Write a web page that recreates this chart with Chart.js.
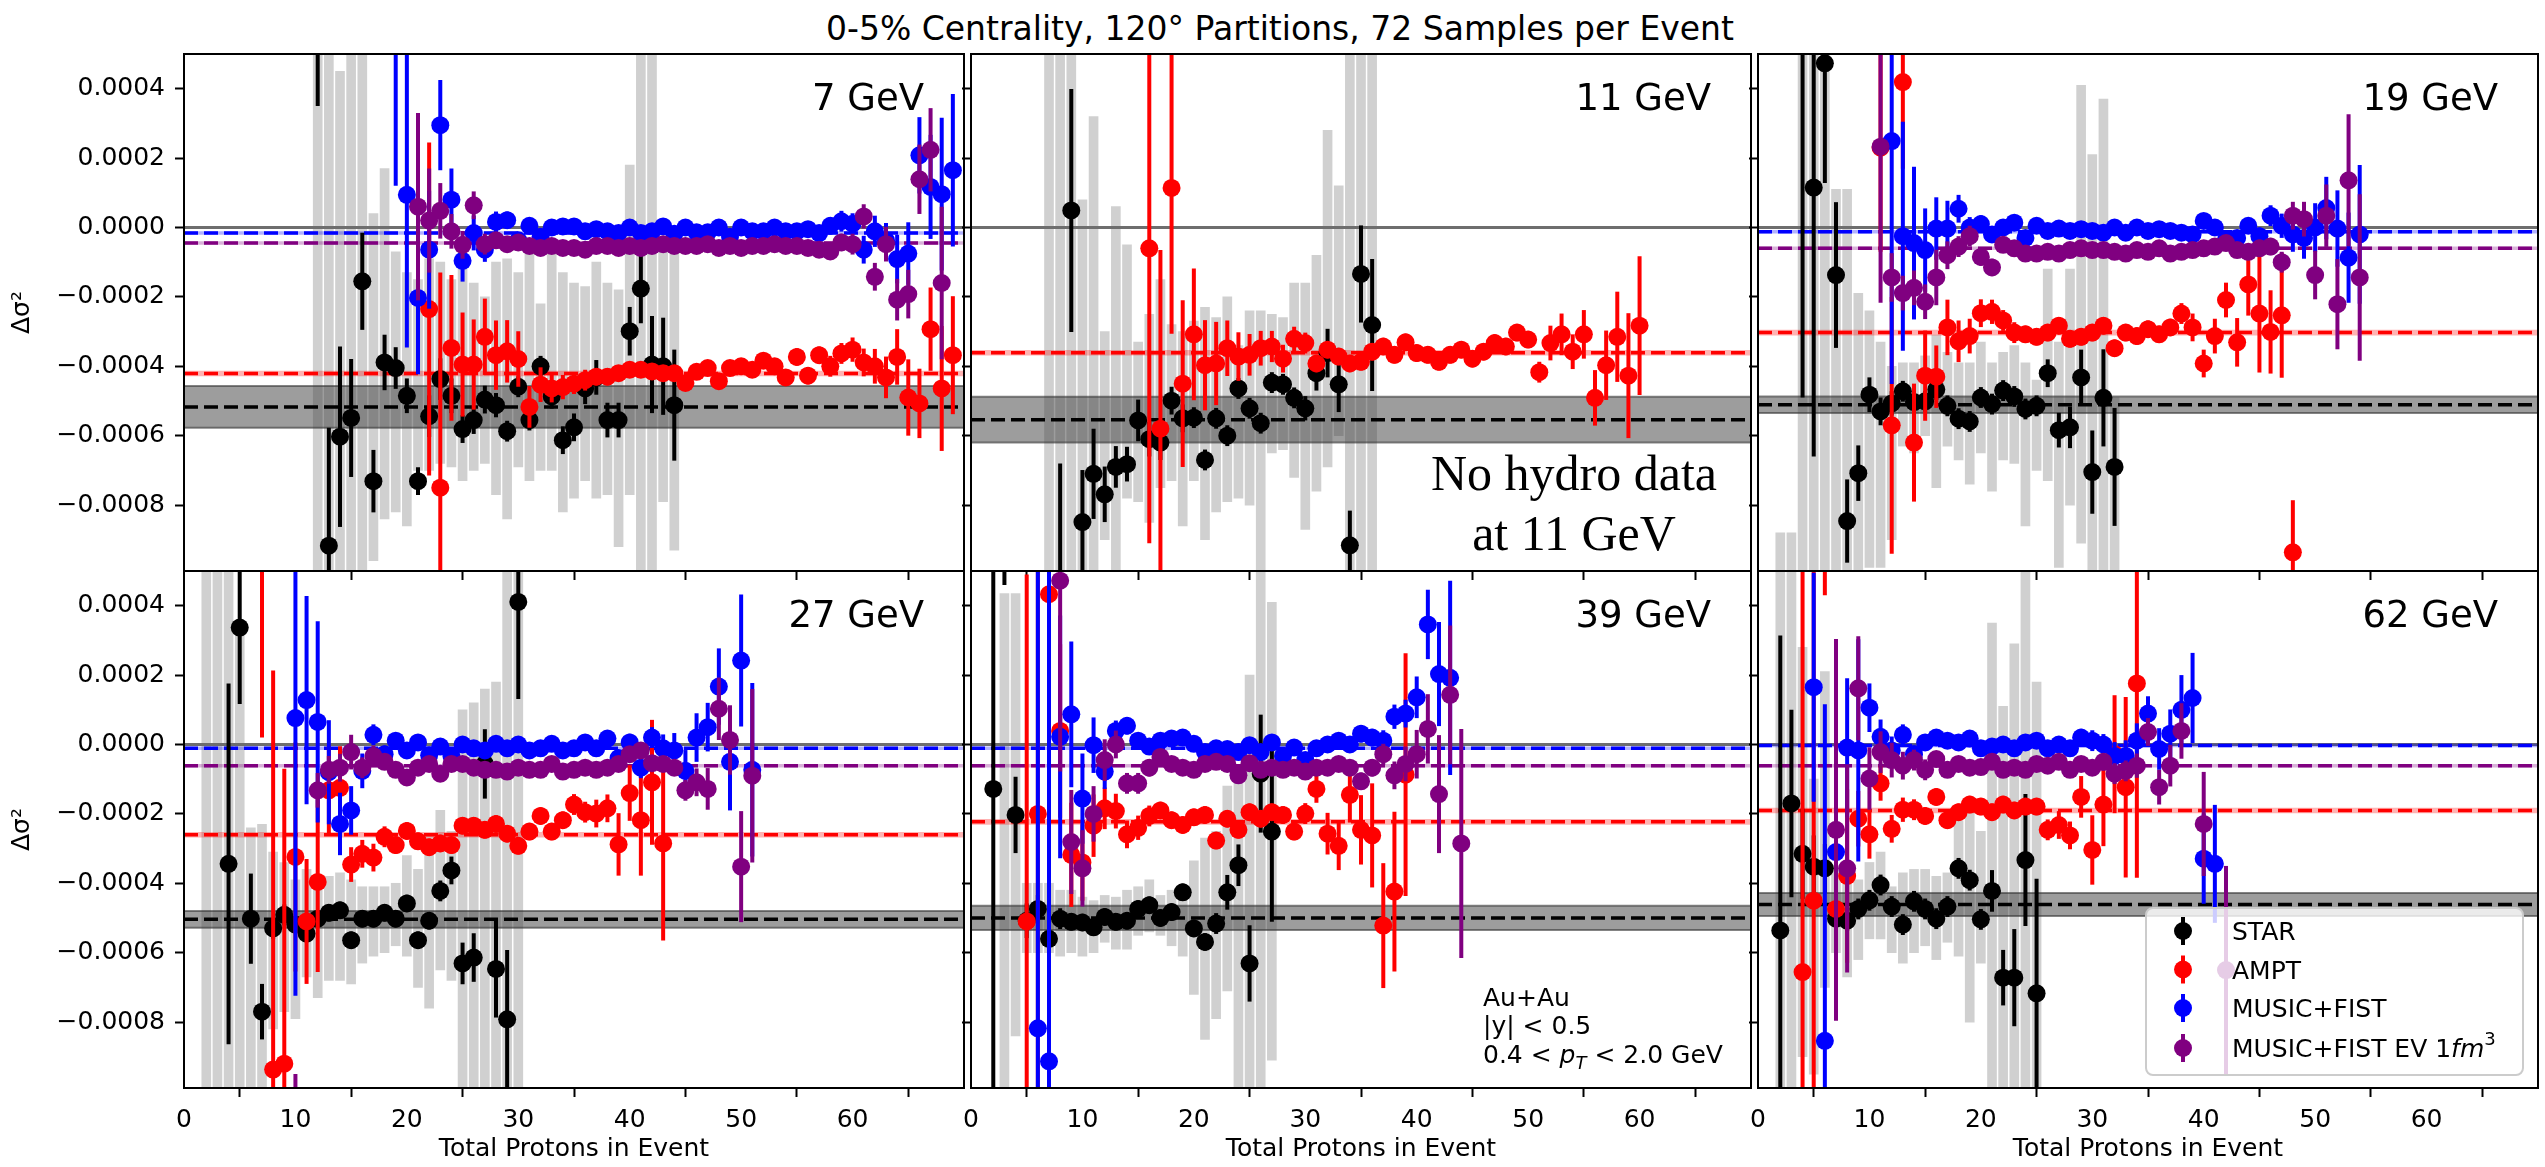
<!DOCTYPE html>
<html>
<head>
<meta charset="utf-8">
<title>Delta sigma^2 vs total protons</title>
<script src="https://cdn.jsdelivr.net/npm/chart.js@4.4.0/dist/chart.umd.min.js"></script>
<style>
  html, body { margin: 0; padding: 0; background: #fff; width: 2545px; height: 1167px; overflow: hidden; }
  #suptitle {
    position: absolute; left: 680px; top: 9px; width: 1200px; line-height: 38px;
    text-align: center; font: 33px "DejaVu Sans", sans-serif; color: #000;
  }
  canvas { position: absolute; }
</style>
</head>
<body>
<div id="suptitle">0-5% Centrality, 120° Partitions, 72 Samples per Event</div>
<canvas id="p0"></canvas>
<canvas id="p1"></canvas>
<canvas id="p2"></canvas>
<canvas id="p3"></canvas>
<canvas id="p4"></canvas>
<canvas id="p5"></canvas>
<script>
// values are given in units of 1e-4 (Δσ²), x = total protons in event
const UNIT = 1e-4;
const energies = ['7 GeV', '11 GeV', '19 GeV', '27 GeV', '39 GeV', '62 GeV'];
const xTicks = [0, 10, 20, 30, 40, 50, 60];
const yTicks = [-0.0008, -0.0006, -0.0004, -0.0002, 0, 0.0002, 0.0004];
const X_MIN = 0, X_MAX = 70;
const Y_MIN = -0.00099, Y_MAX = 0.0005;
const legendLabels = ['STAR', 'AMPT', 'MUSIC+FIST', 'MUSIC+FIST EV 1fm³'];
const noHydroLines = ['No hydro data', 'at 11 GeV'];
const cutLines = ['Au+Au', '|y| < 0.5', '0.4 < pT < 2.0 GeV'];

// ---- 7 GeV ----
const star7_x0 = 12;
const star7_y = [8.0, -9.17, -6.03, -5.49, -1.55, -7.31, -3.89, -4.05, -4.85, -7.31,
  -5.44, -4.37, -4.85, -5.81, -5.55, -4.96, -5.12, -5.87, -4.59, -5.55,
  -4.0, -4.87, -6.13, -5.76, -4.64, -4.32, -5.55, -5.55, -2.99, -1.76,
  -3.95, -4.0, -5.12];
const star7_err = [4.5, 3.4, 2.6, 1.7, 1.4, 0.9, 0.8, 0.6, 0.5, 0.4,
  0.6, 0.6, 0.5, 0.4, 0.4, 0.4, 0.35, 0.3, 0.3, 0.3,
  0.3, 0.35, 0.4, 0.4, 0.45, 0.5, 0.5, 0.5, 0.7, 1.0,
  1.4, 1.4, 1.6];
const sys7_x0 = 12;
const sys7_hi = [6, 6, 4.5, 6, 6, 0.4, 1.7, -0.7, -1.3, -1.5,
  -0.9, -1.0, -1.5, -0.7, -1.6, -2.0, -1.0, -0.9, -1.3, -0.7,
  -2.2, -0.5, -1.3, -1.6, -1.7, -1.0, -1.6, -1.8, 1.8, 6,
  6, -0.5, -0.7];
const sys7_lo = [-11, -11, -9.9, -9.9, -9.9, -9.6, -8.4, -8.2, -8.6, -7.0,
  -7.0, -6.8, -6.9, -7.3, -7.0, -6.8, -7.7, -8.4, -6.9, -7.3,
  -7.0, -7.0, -8.2, -7.8, -7.3, -7.8, -7.7, -9.2, -7.7, -11,
  -11, -7.9, -9.3];
const ampt7_x0 = 22;
const ampt7_y = [-2.35, -7.5, -3.47, -3.95, -3.95, -3.15, -3.68, -3.57, -3.79, -5.17,
  -4.53, -4.64, -4.6, -4.5, -4.4, -4.3, -4.3, -4.2, -4.1, -4.1,
  -4.15, -4.2, -4.2, -4.48, -4.16, -4.05, -4.43, -4.05, -4.0, -4.1,
  -3.84, -4.0, -4.32, -3.73, -4.27, -3.68, -4.0, -3.63, -3.52, -3.89,
  -4.0, -4.32, -3.73, -4.9, -5.07, -2.93, -4.64, -3.68];
const ampt7_err = [4.8, 6.2, 2.1, 1.5, 1.3, 1.1, 1.0, 0.9, 0.8, 0.6,
  0.5, 0.4, 0.35, 0.3, 0.3, 0.25, 0.25, 0.2, 0.2, 0.2,
  0.2, 0.2, 0.2, 0.2, 0.2, 0.2, 0.2, 0.2, 0.2, 0.2,
  0.2, 0.2, 0.2, 0.25, 0.25, 0.25, 0.3, 0.3, 0.35, 0.4,
  0.5, 0.6, 0.8, 1.1, 1.0, 1.2, 1.8, 1.7];
const mf7_x0 = 19;
const mf7_y = [5.5, 0.94, -2.03, -0.64, 2.95, 0.8, -0.96, -0.16, -0.64, 0.16,
  0.21, -0.37, 0.05, -0.27, 0.0, 0.03, 0.03, -0.11, -0.05, -0.11,
  -0.16, 0.0, -0.16, -0.11, 0.03, -0.18, 0.0, -0.14, -0.14, 0.0,
  -0.27, 0.0, -0.11, -0.11, 0.0, -0.11, -0.11, -0.05, -0.16, 0.05,
  0.18, 0.11, -0.64, -0.11, -0.37, -0.91, -0.75, 2.08, 1.17, 0.96,
  1.65];
const mf7_err = [4.3, 4.4, 2.2, 1.7, 1.3, 0.9, 0.6, 0.5, 0.35, 0.3,
  0.25, 0.2, 0.2, 0.2, 0.2, 0.2, 0.2, 0.2, 0.2, 0.2,
  0.2, 0.2, 0.2, 0.2, 0.2, 0.2, 0.2, 0.2, 0.2, 0.2,
  0.2, 0.2, 0.2, 0.2, 0.2, 0.2, 0.2, 0.2, 0.2, 0.25,
  0.3, 0.3, 0.4, 0.45, 0.5, 0.7, 0.9, 1.1, 1.5, 2.2,
  2.2];
const ev7_x0 = 21;
const ev7_y = [0.6, 0.2, 0.48, -0.11, -0.5, 0.64, -0.48, -0.37, -0.48, -0.43,
  -0.53, -0.59, -0.53, -0.59, -0.59, -0.64, -0.53, -0.53, -0.59, -0.53,
  -0.59, -0.53, -0.48, -0.53, -0.53, -0.53, -0.48, -0.59, -0.53, -0.59,
  -0.53, -0.53, -0.48, -0.53, -0.53, -0.59, -0.64, -0.69, -0.43, -0.48,
  0.32, -1.42, -0.48, -2.08, -1.92, 1.39, 2.24, -1.6];
const ev7_err = [2.7, 1.5, 0.8, 0.5, 0.4, 0.4, 0.3, 0.2, 0.2, 0.2,
  0.2, 0.2, 0.2, 0.2, 0.2, 0.2, 0.2, 0.2, 0.2, 0.2,
  0.2, 0.2, 0.2, 0.2, 0.2, 0.2, 0.2, 0.2, 0.2, 0.2,
  0.2, 0.2, 0.2, 0.2, 0.2, 0.2, 0.2, 0.2, 0.25, 0.3,
  0.35, 0.4, 0.5, 0.6, 0.7, 1.0, 1.2, 2.2];

// ---- 11 GeV ----
const star11_x0 = 7;
const star11_y = [null, -12, 0.49, -8.49, -7.1, -7.69, -6.9, -6.82, -5.56, -6.1,
  -6.2, -4.99, -5.5, -5.48, -6.7, -5.5, -6.0, -4.64, -5.21, -5.64,
  -4.47, -4.52, -4.91, -5.21, -4.2, -3.62, -4.52, -9.16, -1.34, -2.81];
const star11_err = [null, 5.2, 3.5, 1.5, 1.3, 0.8, 0.6, 0.5, 0.6, 0.5,
  0.5, 0.4, 0.4, 0.3, 0.3, 0.3, 0.3, 0.3, 0.3, 0.3,
  0.3, 0.3, 0.3, 0.35, 0.5, 0.7, 0.8, 1.0, 1.4, 1.9];
const sys11_x0 = 7;
const sys11_hi = [6, 6, 6, 0.8, 3.2, -3.0, 0.6, -0.5, -3.3, -2.5,
  -1.5, -2.8, -3.0, -2.7, -2.3, -2.6, -2.0, -3.4, -2.4, -2.4,
  -2.5, -2.6, -1.6, -1.6, -0.8, 2.8, 1.2, 6, 6, 6];
const sys11_lo = [-11, -11, -11, -9.9, -10, -9.0, -10, -7.8, -7.9, -8.5,
  -7.5, -7.3, -8.6, -7.3, -9.0, -8.2, -7.9, -7.8, -8.0, -9.9,
  -6.5, -6.4, -7.2, -8.7, -7.6, -6.9, -6.0, -11, -11, -11];
const ampt11_x0 = 16;
const ampt11_y = [-0.6, -5.8, 1.14, -4.5, -3.08, -3.97, -3.92, -3.48, -3.72, -3.67,
  -3.48, -3.43, -3.78, -3.21, -3.33, -3.92, -3.52, -3.72, -3.92, -3.87,
  -3.58, -3.43, -3.67, -3.31, -3.62, -3.67, -3.87, -3.67, -3.52, -3.78,
  -3.58, -3.33, -3.43, -3.03, -3.23, -4.17, -3.33, -3.08, -3.58, -3.08,
  -4.91, -3.97, -3.15, -4.27, -2.83];
const ampt11_err = [8.5, 5.15, 4.2, 2.4, 1.9, 1.3, 1.2, 0.8, 0.7, 0.6,
  0.5, 0.45, 0.4, 0.35, 0.3, 0.25, 0.25, 0.25, 0.25, 0.25,
  0.25, 0.25, 0.25, 0.25, 0.25, 0.25, 0.25, 0.25, 0.25, 0.25,
  0.25, 0.25, 0.25, 0.25, 0.25, 0.3, 0.5, 0.6, 0.5, 0.7,
  0.8, 1.0, 1.3, 1.8, 2.0];

// ---- 19 GeV ----
const star19_x0 = 4;
const star19_y = [6, 1.15, 4.73, -1.37, -8.46, -7.08, -4.82, -5.3, -5.07, -4.72,
  -5.03, -5.01, -4.67, -5.14, -5.51, -5.59, -4.9, -5.09, -4.7, -4.87,
  -5.23, -5.14, -4.2, -5.84, -5.76, -4.32, -7.05, -4.91, -6.9];
const star19_err = [10.9, 7.75, 3.45, 2.1, 1.2, 0.8, 0.5, 0.4, 0.35, 0.3,
  0.3, 0.3, 0.3, 0.3, 0.3, 0.3, 0.3, 0.3, 0.3, 0.3,
  0.3, 0.3, 0.4, 0.5, 0.6, 0.8, 1.2, 1.4, 1.7];
const sys19_x0 = 2;
const sys19_hi = [-8.8, -8.8, 6, 6, 6, 1.1, 1.1, -1.9, -2.4, -3.3,
  -4.0, -3.9, -3.9, -3.7, -3.1, -3.6, -3.9, -3.9, -3.3, -3.9,
  -3.6, -3.4, -3.9, -4.4, -1.2, -3.3, -1.2, 4.1, 2.1, 3.7,
  -4.9];
const sys19_lo = [-11, -11, -11, -11, -11, -11, -11, -10, -9.8, -9.8,
  -9.0, -6.3, -6.5, -6.0, -7.5, -6.3, -6.7, -7.4, -6.5, -7.6,
  -6.7, -6.8, -8.6, -7.0, -7.3, -9.8, -8.0, -9.1, -11, -11,
  -9.9];
const ampt19_x0 = 11;
const ampt19_y = [2.3, -5.7, 4.19, -6.2, -4.27, -4.3, -2.88, -3.28, -3.13, -2.47,
  -2.43, -2.68, -3.03, -3.08, -3.15, -3.03, -2.83, -3.21, -3.15, -3.03,
  -2.83, -3.48, -3.03, -3.13, -2.93, -3.08, -2.88, -2.48, -2.88, -3.92,
  -3.13, -2.09, -3.31, -1.64, -2.48, -3.01, -2.53, -9.36];
const ampt19_err = [3.0, 3.7, 2.5, 1.7, 1.3, 0.9, 0.8, 0.6, 0.5, 0.4,
  0.35, 0.3, 0.3, 0.25, 0.25, 0.25, 0.25, 0.25, 0.25, 0.25,
  0.25, 0.25, 0.25, 0.25, 0.25, 0.25, 0.25, 0.3, 0.4, 0.4,
  0.5, 0.5, 0.7, 0.9, 1.7, 1.2, 1.8, 1.5];
const mf19_x0 = 12;
const mf19_y = [2.49, -0.25, -0.45, -0.65, -0.03, -0.03, 0.54, 0.0, 0.1, -0.2,
  0.0, 0.14, -0.3, 0.05, -0.1, -0.03, -0.1, -0.05, -0.1, -0.15,
  0.0, -0.15, 0.0, -0.1, -0.05, -0.1, -0.15, -0.2, 0.19, 0.0,
  -0.35, -0.3, 0.05, -0.25, 0.34, 0.05, -0.2, -0.3, 0.0, 0.56,
  -0.03, -0.87, -0.2];
const mf19_err = [7, 3.3, 2.2, 1.2, 0.9, 0.8, 0.4, 0.3, 0.25, 0.2,
  0.2, 0.2, 0.2, 0.2, 0.2, 0.2, 0.2, 0.2, 0.2, 0.2,
  0.2, 0.2, 0.2, 0.2, 0.2, 0.2, 0.2, 0.2, 0.2, 0.2,
  0.2, 0.2, 0.2, 0.25, 0.3, 0.35, 0.5, 0.6, 0.7, 0.9,
  1.1, 1.3, 2.0];
const ev19_x0 = 11;
const ev19_y = [2.33, -1.44, -1.89, -1.74, -2.14, -1.44, -0.8, -0.55, -0.25, -0.85,
  -1.15, -0.5, -0.6, -0.75, -0.75, -0.7, -0.75, -0.65, -0.6, -0.65,
  -0.65, -0.7, -0.75, -0.65, -0.7, -0.6, -0.75, -0.7, -0.65, -0.6,
  -0.55, -0.45, -0.65, -0.7, -0.6, -0.55, -1.0, 0.34, 0.24, -1.37,
  0.34, -2.21, 1.36, -1.44];
const ev19_err = [4.5, 0.7, 0.5, 0.5, 0.5, 0.8, 0.4, 0.3, 0.3, 0.25,
  0.25, 0.2, 0.2, 0.2, 0.2, 0.2, 0.2, 0.2, 0.2, 0.2,
  0.2, 0.2, 0.2, 0.2, 0.2, 0.2, 0.2, 0.2, 0.2, 0.2,
  0.2, 0.2, 0.2, 0.2, 0.25, 0.25, 0.3, 0.4, 0.5, 0.7,
  0.9, 1.3, 1.9, 2.4];

// ---- 27 GeV ----
const star27_x0 = 4;
const star27_y = [-3.44, 3.37, -5.02, -7.7, -5.3, -4.91, -5.19, -5.45, -5.02, -4.85,
  -4.78, -5.64, -5.02, -5.02, -4.85, -5.02, -4.58, -5.64, -5.08, -4.22,
  -3.63, -6.31, -6.14, -0.56, -6.47, -7.92, 4.11];
const star27_err = [5.2, 2.2, 1.3, 0.8, 0.3, 0.3, 0.25, 0.25, 0.25, 0.25,
  0.25, 0.25, 0.25, 0.25, 0.25, 0.25, 0.25, 0.25, 0.25, 0.3,
  0.4, 0.6, 0.7, 1.0, 1.4, 2.0, 2.8];
const sys27_x0 = 2;
const sys27_hi = [6, 6, 6, 3.2, -2.4, -2.3, -3.1, -3.4, -3.9, -3.6,
  -3.9, -3.8, -3.7, -3.9, -4.1, -4.1, -4.1, -4.0, -3.2, -3.6,
  -2.6, -1.9, -2.5, 1.0, 1.2, 1.6, 1.8, 6, 6];
const sys27_lo = [-11, -11, -11, -11, -11, -11, -8.2, -7.7, -7.9, -6.7,
  -7.3, -6.8, -6.8, -6.9, -6.3, -6.1, -6.0, -5.8, -6.1, -7.0,
  -7.6, -6.5, -6.8, -11, -11, -11, -11, -11, -11];
const ampt27_x0 = 7;
const ampt27_y = [5.5, -9.37, -9.2, -3.24, -5.1, -3.96, -1.32, -1.25, -3.46, -3.15,
  -3.26, -2.66, -2.9, -2.49, -2.79, -2.96, -2.85, -2.9, -2.34, -2.34,
  -2.46, -2.29, -2.57, -2.92, -2.51, -2.06, -2.51, -2.18, -1.73, -1.95,
  -1.99, -1.84, -2.88, -1.4, -2.18, -1.09, -2.85];
const ampt27_err = [5.3, 11.5, 8.5, 3.3, 1.8, 2.6, 1.3, 1.2, 0.5, 0.4,
  0.4, 0.3, 0.25, 0.25, 0.25, 0.25, 0.25, 0.25, 0.25, 0.25,
  0.25, 0.25, 0.25, 0.25, 0.25, 0.25, 0.25, 0.25, 0.3, 0.3,
  0.4, 0.4, 0.9, 0.8, 1.6, 1.8, 2.8];
const mf27_x0 = 10;
const mf27_y = [0.76, 1.28, 0.65, -0.8, -2.29, -1.9, -0.76, 0.28, -0.28, 0.11,
  -0.17, 0.06, -0.31, -0.06, -0.33, 0.0, -0.11, -0.17, 0.02, -0.11,
  0.0, -0.17, -0.11, 0.02, -0.17, -0.11, 0.06, -0.11, 0.17, -0.39,
  0.06, -0.67, 0.2, -0.11, -0.17, -0.76, 0.2, 0.5, 1.67, -0.5,
  2.42, -0.73];
const mf27_err = [8, 3, 2.9, 1.5, 0.9, 0.7, 0.5, 0.3, 0.25, 0.2,
  0.2, 0.2, 0.2, 0.2, 0.2, 0.2, 0.2, 0.2, 0.2, 0.2,
  0.2, 0.2, 0.2, 0.2, 0.2, 0.2, 0.2, 0.2, 0.2, 0.2,
  0.25, 0.3, 0.3, 0.4, 0.5, 0.6, 0.7, 0.7, 1.1, 1.4,
  1.9, 2.5];
const ev27_x0 = 10;
const ev27_y = [-14, null, -1.32, -0.73, -0.67, -0.22, -0.67, -0.33, -0.5, -0.73,
  -0.95, -0.67, -0.56, -0.84, -0.56, -0.56, -0.67, -0.73, -0.73, -0.78,
  -0.67, -0.73, -0.73, -0.56, -0.78, -0.73, -0.67, -0.73, -0.67, -0.56,
  -0.28, -0.17, -0.54, -0.56, -0.67, -1.32, -1.09, -1.28, 1.03, 0.13,
  -3.52, -0.9];
const ev27_err = [4.5, null, 0.5, 0.4, 0.4, 0.5, 0.3, 0.3, 0.2, 0.2,
  0.2, 0.2, 0.2, 0.2, 0.2, 0.2, 0.2, 0.2, 0.2, 0.2,
  0.2, 0.2, 0.2, 0.2, 0.2, 0.2, 0.2, 0.2, 0.2, 0.2,
  0.2, 0.2, 0.2, 0.2, 0.2, 0.3, 0.4, 0.6, 0.9, 1.0,
  1.6, 2.5];

// ---- 39 GeV ----
const star39_x0 = 2;
const star39_y = [-1.28, 9, -2.03, -5.08, -4.74, -5.6, -5.02, -5.11, -5.13, -5.27,
  -4.97, -5.11, -5.08, -4.74, -4.63, -5.0, -4.83, -4.26, -5.3, -5.69,
  -5.16, -4.26, -3.48, -6.31, -0.84, -2.51];
const star39_err = [10, 4.4, 1.1, 0.5, 0.4, 0.4, 0.3, 0.25, 0.25, 0.25,
  0.25, 0.25, 0.25, 0.25, 0.25, 0.25, 0.25, 0.25, 0.25, 0.25,
  0.3, 0.5, 0.6, 1.1, 1.7, 2.6];
const sys39_x0 = 3;
const sys39_hi = [4.35, 4.35, -4.0, -4.0, -4.0, -4.2, -4.2, -4.4, -4.5, -4.35,
  -4.4, -4.2, -4.1, -3.9, -4.35, -4.2, -4.2, -3.35, -2.7, -2.5,
  -1.2, -0.7, 2.0, 6, 4.1];
const sys39_lo = [-11, -8.4, -6.0, -6.0, -6.0, -6.1, -6.0, -6.1, -6.0, -5.7,
  -5.9, -5.9, -5.5, -5.4, -5.5, -5.8, -6.1, -7.2, -8.5, -7.9,
  -7.1, -11, -11, -11, -9.1];
const ampt39_x0 = 5;
const ampt39_y = [-5.1, -2, 4.33, 0.39, -3.18, -3.4, -2.34, -1.84, -1.92, -2.59,
  -2.4, -2.06, -1.9, -2.18, -2.32, -2.1, -2.03, -2.77, -2.14, -2.46,
  -1.95, -2.14, -1.95, -2.03, -2.51, -1.99, -1.28, -2.57, -2.92, -1.45,
  -2.46, -2.62, -5.22, -4.24, -0.87];
const ampt39_err = [10, 12, 6, 2.5, 1.5, 1.1, 0.9, 0.6, 0.5, 0.4,
  0.35, 0.3, 0.25, 0.25, 0.25, 0.25, 0.25, 0.25, 0.25, 0.25,
  0.25, 0.25, 0.25, 0.25, 0.25, 0.3, 0.4, 0.6, 0.7, 0.8,
  1.0, 1.5, 1.8, 2.3, 3.5];
const mf39_x0 = 6;
const mf39_y = [-8.18, -9.13, 0.22, 0.87, -1.56, -0.02, -0.78, 0.39, 0.54, 0.11,
  -0.06, 0.11, 0.17, 0.2, 0.02, -0.22, -0.11, -0.13, -0.22, -0.02,
  -0.22, 0.06, -0.33, -0.09, -0.45, -0.11, 0.0, 0.11, 0.0, 0.31,
  0.2, 0.11, 0.8, 0.89, 1.36, 3.46, 2.03, 1.92];
const mf39_err = [15, 15, 3.5, 2.1, 1.3, 0.8, 0.5, 0.3, 0.25, 0.2,
  0.2, 0.2, 0.2, 0.2, 0.2, 0.2, 0.2, 0.2, 0.2, 0.2,
  0.2, 0.2, 0.2, 0.2, 0.2, 0.2, 0.2, 0.2, 0.2, 0.25,
  0.25, 0.3, 0.35, 0.4, 0.6, 1.0, 1.5, 2.8];
const ev39_x0 = 8;
const ev39_y = [4.72, -2.81, -3.57, -2.0, -0.45, 0.0, -1.12, -1.12, -0.67, -0.36,
  -0.56, -0.67, -0.73, -0.56, -0.5, -0.56, -0.89, -0.54, -0.73, -0.67,
  -0.73, -0.67, -0.78, -0.67, -0.67, -0.56, -0.67, -1.06, -0.67, -0.28,
  -0.89, -0.56, -0.28, 0.45, -1.43, 1.43, -2.85];
const ev39_err = [5.5, 1.5, 1.1, 0.8, 0.6, 0.4, 0.3, 0.3, 0.25, 0.2,
  0.2, 0.2, 0.2, 0.2, 0.2, 0.2, 0.2, 0.2, 0.2, 0.2,
  0.2, 0.2, 0.2, 0.2, 0.2, 0.2, 0.2, 0.25, 0.25, 0.3,
  0.4, 0.5, 0.7, 1.0, 1.7, 2.0, 3.3];

// ---- 62 GeV ----
const star62_x0 = 2;
const star62_y = [-5.36, -1.7, -3.15, -3.52, -3.57, -5.02, -5.08, -4.74, -4.49, -4.05,
  -4.67, -5.19, -4.52, -4.74, -5.02, -4.67, -3.57, -3.91, -5.04, -4.22,
  -6.72, -6.72, -3.33, -7.17];
const star62_err = [8.5, 2.7, 1.3, 0.9, 0.7, 0.4, 0.3, 0.3, 0.3, 0.3,
  0.3, 0.3, 0.3, 0.3, 0.3, 0.3, 0.3, 0.3, 0.3, 0.6,
  0.8, 1.4, 1.9, 3.3];
const sys62_x0 = 2;
const sys62_hi = [6, 6, 2.8, -1.0, 2.1, -3.5, -3.6, -3.9, -3.4, -3.1,
  -4.1, -3.7, -3.6, -3.6, -3.8, -3.7, -2.2, -1.6, -2.5, 3.5,
  1.1, 2.9, 6, 1.8];
const sys62_lo = [-11, -11, -9.0, -9.5, -7.0, -6.0, -6.7, -6.2, -5.6, -5.6,
  -6.0, -6.3, -6.0, -5.8, -6.2, -5.7, -6.1, -8.0, -6.3, -11,
  -11, -11, -11, -11];
const ampt62_x0 = 4;
const ampt62_y = [-6.56, -4.5, 9, -4.74, -3.79, -2.14, -2.59, -1.12, -2.43, -1.88,
  -1.88, -2.06, -1.51, -2.18, -1.95, -1.73, -1.79, -1.95, -1.73, -1.9,
  -1.79, -1.79, -2.46, -2.32, -2.62, -1.51, -3.04, -1.73, -0.28, -1.23,
  1.76];
const ampt62_err = [12, 11, 4.7, 2.5, 2.5, 0.8, 0.7, 0.5, 0.4, 0.35,
  0.3, 0.25, 0.25, 0.25, 0.25, 0.25, 0.25, 0.25, 0.25, 0.25,
  0.25, 0.25, 0.3, 0.4, 0.4, 0.6, 1.0, 1.2, 1.7, 2.6,
  5.6];
const mf62_x0 = 5;
const mf62_y = [1.65, -8.54, -3.1, -0.09, -0.17, 1.06, 0.22, -0.17, 0.28, -0.28,
  0.06, 0.2, 0.11, 0.06, 0.17, -0.11, -0.06, 0.0, -0.11, 0.06,
  0.11, -0.11, 0.0, -0.11, 0.2, 0.11, 0.0, -0.33, -0.33, 0.11,
  0.89, -0.13, 0.31, 1.0, 1.34, -3.29, -3.44];
const mf62_err = [3.3, 9.7, 3.6, 2.0, 3.2, 0.7, 0.5, 0.4, 0.3, 0.25,
  0.2, 0.2, 0.2, 0.2, 0.2, 0.2, 0.2, 0.2, 0.2, 0.2,
  0.2, 0.2, 0.2, 0.2, 0.25, 0.3, 0.3, 0.4, 0.45, 0.5,
  0.5, 0.6, 0.7, 1.0, 1.3, 1.3, 1.7];
const ev62_x0 = 7;
const ev62_y = [-2.46, -3.57, 1.62, -0.98, -0.22, -0.45, -0.61, -0.45, -0.73, -0.42,
  -0.73, -0.56, -0.67, -0.65, -0.5, -0.73, -0.67, -0.73, -0.56, -0.61,
  -0.5, -0.73, -0.56, -0.67, -0.5, -0.84, -0.76, -0.61, 0.36, -1.23,
  -0.61, 0.39, null, -2.29, null, -6.5];
const ev62_err = [5.5, 3.0, 1.5, 0.9, 0.6, 0.5, 0.4, 0.3, 0.3, 0.2,
  0.2, 0.2, 0.2, 0.2, 0.2, 0.2, 0.2, 0.2, 0.2, 0.2,
  0.2, 0.2, 0.2, 0.2, 0.25, 0.3, 0.3, 0.35, 0.4, 0.5,
  0.6, 0.8, null, 1.5, null, 3.0];

// horizontal averages (same units), one entry per energy
const meanStar = [-5.17, -5.54, -5.11, -5.04, -5.0, -4.61];
const bandStar = [0.6, 0.66, 0.24, 0.24, 0.35, 0.33];
const meanAmpt = [-4.21, -3.61, -3.03, -2.6, -2.23, -1.9];
const meanMf = [-0.16, null, -0.12, -0.11, -0.11, -0.03];
const meanEv = [-0.45, null, -0.6, -0.61, -0.61, -0.61];
const bandAmpt = 0.08, bandHydro = 0.05;

const COL = { star: '#000000', ampt: '#ff0000', mf: '#0000ff', ev: '#800080' };
const legendColors = [COL.star, COL.ampt, COL.mf, COL.ev];

const panels = [
  { star: [star7_x0, star7_y, star7_err], sys: [sys7_x0, sys7_hi, sys7_lo],
    ampt: [ampt7_x0, ampt7_y, ampt7_err], mf: [mf7_x0, mf7_y, mf7_err], ev: [ev7_x0, ev7_y, ev7_err] },
  { star: [star11_x0, star11_y, star11_err], sys: [sys11_x0, sys11_hi, sys11_lo],
    ampt: [ampt11_x0, ampt11_y, ampt11_err], mf: null, ev: null },
  { star: [star19_x0, star19_y, star19_err], sys: [sys19_x0, sys19_hi, sys19_lo],
    ampt: [ampt19_x0, ampt19_y, ampt19_err], mf: [mf19_x0, mf19_y, mf19_err], ev: [ev19_x0, ev19_y, ev19_err] },
  { star: [star27_x0, star27_y, star27_err], sys: [sys27_x0, sys27_hi, sys27_lo],
    ampt: [ampt27_x0, ampt27_y, ampt27_err], mf: [mf27_x0, mf27_y, mf27_err], ev: [ev27_x0, ev27_y, ev27_err] },
  { star: [star39_x0, star39_y, star39_err], sys: [sys39_x0, sys39_hi, sys39_lo],
    ampt: [ampt39_x0, ampt39_y, ampt39_err], mf: [mf39_x0, mf39_y, mf39_err], ev: [ev39_x0, ev39_y, ev39_err] },
  { star: [star62_x0, star62_y, star62_err], sys: [sys62_x0, sys62_hi, sys62_lo],
    ampt: [ampt62_x0, ampt62_y, ampt62_err], mf: [mf62_x0, mf62_y, mf62_err], ev: [ev62_x0, ev62_y, ev62_err] }
];

Chart.defaults.font.family = '"DejaVu Sans", sans-serif';
Chart.defaults.font.size = 25;
Chart.defaults.color = '#000';

function toPoints(x0, ys, errs) {
  const out = [];
  ys.forEach((v, i) => {
    if (v !== null) out.push({ x: x0 + i, y: v * UNIT, e: errs[i] * UNIT });
  });
  return out;
}
function toBars(x0, hi, lo) {
  return hi.map((h, i) => ({ x: x0 + i, y: [lo[i] * UNIT, h * UNIT] }));
}
function flat(v) {
  return [{ x: X_MIN, y: v }, { x: X_MAX, y: v }];
}
function lineDs(v, color, width, dash, order) {
  return { type: 'line', data: flat(v), borderColor: color, borderWidth: width, borderDash: dash,
    pointRadius: 0, fill: false, order, clip: 0 };
}
function bandDs(mean, half, color, order) {
  return { type: 'line', data: flat((mean + half) * UNIT), fill: { value: (mean - half) * UNIT },
    backgroundColor: color, borderWidth: 0, pointRadius: 0, order, clip: 0 };
}
function pointDs(series, color, order) {
  return { type: 'scatter', data: toPoints(...series), backgroundColor: color, borderColor: color,
    pointRadius: 9, pointHoverRadius: 9, pointBorderWidth: 0, errorBars: true, order, clip: 0 };
}

function buildDatasets(i) {
  const p = panels[i];
  const ds = [];
  ds.push({ type: 'bar', data: toBars(...p.sys), backgroundColor: 'rgba(150,150,150,0.45)',
    borderWidth: 0, barThickness: 9, order: 60, clip: 0 });
  ds.push(lineDs(0, '#6e6e6e', 3, [], 55));
  ds.push(bandDs(meanStar[i], bandStar[i], 'rgba(60,60,60,0.5)', 50));
  ds.push(lineDs((meanStar[i] + bandStar[i]) * UNIT, 'rgba(50,50,50,0.6)', 2, [], 50));
  ds.push(lineDs((meanStar[i] - bandStar[i]) * UNIT, 'rgba(50,50,50,0.6)', 2, [], 50));
  ds.push(bandDs(meanAmpt[i], bandAmpt, 'rgba(255,0,0,0.3)', 49));
  if (meanMf[i] !== null) ds.push(bandDs(meanMf[i], bandHydro, 'rgba(0,0,255,0.3)', 48));
  if (meanEv[i] !== null) ds.push(bandDs(meanEv[i], bandHydro, 'rgba(128,0,128,0.3)', 47));
  ds.push(lineDs(meanStar[i] * UNIT, COL.star, 3.5, [14, 6], 45));
  ds.push(lineDs(meanAmpt[i] * UNIT, COL.ampt, 3.5, [14, 6], 44));
  if (meanMf[i] !== null) ds.push(lineDs(meanMf[i] * UNIT, COL.mf, 3.5, [14, 6], 43));
  if (meanEv[i] !== null) ds.push(lineDs(meanEv[i] * UNIT, COL.ev, 3.5, [14, 6], 42));
  ds.push(pointDs(p.star, COL.star, 40));
  ds.push(pointDs(p.ampt, COL.ampt, 39));
  if (p.mf) ds.push(pointDs(p.mf, COL.mf, 38));
  if (p.ev) ds.push(pointDs(p.ev, COL.ev, 37));
  return ds;
}

// vertical error bars, drawn right before the markers of their dataset
const errorBarPlugin = {
  id: 'errorBars',
  beforeDatasetDraw(chart, args) {
    const ds = chart.data.datasets[args.index];
    if (!ds.errorBars) return;
    const { ctx, chartArea: a, scales: { x, y } } = chart;
    ctx.save();
    ctx.beginPath();
    ctx.rect(a.left, a.top, a.width, a.height);
    ctx.clip();
    ctx.strokeStyle = ds.borderColor;
    ctx.lineWidth = 4;
    ds.data.forEach(p => {
      if (!isFinite(p.e)) return;
      const px = x.getPixelForValue(p.x);
      ctx.beginPath();
      ctx.moveTo(px, y.getPixelForValue(p.y - p.e));
      ctx.lineTo(px, y.getPixelForValue(p.y + p.e));
      ctx.stroke();
    });
    ctx.restore();
  }
};

function drawPieces(ctx, x, y, pieces) {
  pieces.forEach(pc => {
    ctx.font = pc.font;
    ctx.fillText(pc.t, x, y + (pc.dy || 0));
    x += ctx.measureText(pc.t).width;
  });
}

function drawLegend(ctx, a) {
  const w = 377, h = 167;
  const x0 = a.right - 15 - w, y0 = a.bottom - 13 - h;
  ctx.save();
  ctx.beginPath();
  ctx.roundRect(x0, y0, w, h, 7);
  ctx.fillStyle = 'rgba(255,255,255,0.8)';
  ctx.fill();
  ctx.strokeStyle = '#cccccc';
  ctx.lineWidth = 2;
  ctx.stroke();
  const base = [32, 70.5, 109, 149];
  legendLabels.forEach((lab, i) => {
    const by = y0 + base[i];
    const cy = by - 9;
    const mx = x0 + 37;
    ctx.strokeStyle = legendColors[i];
    ctx.fillStyle = legendColors[i];
    ctx.lineWidth = 4;
    ctx.beginPath(); ctx.moveTo(mx, cy - 14); ctx.lineTo(mx, cy + 14); ctx.stroke();
    ctx.beginPath(); ctx.arc(mx, cy, 9, 0, Math.PI * 2); ctx.fill();
    ctx.fillStyle = '#000';
    ctx.textAlign = 'left';
    ctx.textBaseline = 'alphabetic';
    const tx = x0 + 86;
    if (lab.endsWith('fm³')) {
      drawPieces(ctx, tx, by, [
        { t: lab.slice(0, -3), font: '25px "DejaVu Sans"' },
        { t: 'fm', font: 'italic 25px "DejaVu Sans"' },
        { t: '3', font: '18px "DejaVu Sans"', dy: -12 }
      ]);
    } else {
      ctx.font = '25px "DejaVu Sans"';
      ctx.fillText(lab, tx, by);
    }
  });
  ctx.restore();
}

function drawCuts(ctx, a) {
  const x = a.left + 512;
  const base = [435, 463, 492];
  ctx.fillStyle = '#000';
  ctx.textAlign = 'left';
  ctx.textBaseline = 'alphabetic';
  ctx.font = '25px "DejaVu Sans"';
  ctx.fillText(cutLines[0], x, a.top + base[0]);
  ctx.fillText(cutLines[1], x, a.top + base[1]);
  const parts = cutLines[2].split('pT');
  drawPieces(ctx, x, a.top + base[2], [
    { t: parts[0], font: '25px "DejaVu Sans"' },
    { t: 'p', font: 'italic 25px "DejaVu Sans"' },
    { t: 'T', font: 'italic 18px "DejaVu Sans"', dy: 6 },
    { t: parts[1], font: '25px "DejaVu Sans"' }
  ]);
}

function decorPlugin(idx) {
  return {
    id: 'decor',
    afterDraw(chart) {
      const { ctx, chartArea: a } = chart;
      ctx.save();
      ctx.strokeStyle = '#000';
      ctx.lineWidth = 2;
      ctx.strokeRect(a.left, a.top, a.width, a.height);
      ctx.fillStyle = '#000';
      ctx.font = '37px "DejaVu Sans"';
      ctx.textAlign = 'right';
      ctx.textBaseline = 'alphabetic';
      ctx.fillText(energies[idx], a.right - 40, a.top + 56);
      if (idx === 1) {
        ctx.font = '50px "Liberation Serif"';
        ctx.textAlign = 'center';
        ctx.fillText(noHydroLines[0], a.left + 603, a.top + 436);
        ctx.fillText(noHydroLines[1], a.left + 603, a.top + 496);
      }
      if (idx === 4) drawCuts(ctx, a);
      if (idx === 5) drawLegend(ctx, a);
      ctx.restore();
    }
  };
}

const fmtTick = v => (v < -1e-12 ? '\u2212' : '') + Math.abs(v).toFixed(4);

function makeChart(idx) {
  const r = Math.floor(idx / 3), c = idx % 3;
  const axisW = c === 0 ? 184 : 10;
  const axisH = r === 0 ? 9 : 79;
  const plotLeft = 184 + 787 * c, plotTop = 54 + 517 * r;
  const canvas = document.getElementById('p' + idx);
  canvas.width = axisW + 787 + 2;
  canvas.height = 30 + 517 + axisH;
  canvas.style.left = (plotLeft - axisW) + 'px';
  canvas.style.top = (plotTop - 30) + 'px';
  const tickGrid = { display: true, drawOnChartArea: false, drawTicks: true,
    tickLength: 9, tickWidth: 2, tickColor: '#000' };
  new Chart(canvas, {
    type: 'scatter',
    data: { datasets: buildDatasets(idx) },
    options: {
      responsive: false,
      animation: false,
      devicePixelRatio: 1,
      events: [],
      layout: { padding: { top: 30, right: 2, left: 0, bottom: 0 } },
      plugins: { legend: { display: false }, tooltip: { enabled: false } },
      scales: {
        x: {
          type: 'linear', min: X_MIN, max: X_MAX, offset: false,
          afterBuildTicks: s => { s.ticks = xTicks.map(v => ({ value: v })); },
          afterFit: s => { s.height = axisH; s.paddingLeft = 0; s.paddingRight = 0; },
          grid: tickGrid,
          border: { display: false },
          ticks: { display: r === 1, padding: 8, autoSkip: false, maxRotation: 0, color: '#000' },
          title: { display: r === 1, text: 'Total Protons in Event', color: '#000',
            padding: { top: 0, bottom: 3 } }
        },
        y: {
          type: 'linear', min: Y_MIN, max: Y_MAX,
          afterBuildTicks: s => { s.ticks = yTicks.map(v => ({ value: v })); },
          afterFit: s => { s.width = axisW; s.paddingTop = 0; s.paddingBottom = 0; },
          grid: tickGrid,
          border: { display: false },
          ticks: { display: c === 0, padding: 10, autoSkip: false, color: '#000', callback: fmtTick },
          title: { display: c === 0, text: 'Δσ²', color: '#000', padding: { top: 7, bottom: 0 } }
        }
      }
    },
    plugins: [errorBarPlugin, decorPlugin(idx)]
  });
}

[0, 1, 2, 3, 4, 5].forEach(makeChart);
</script>
</body>
</html>
